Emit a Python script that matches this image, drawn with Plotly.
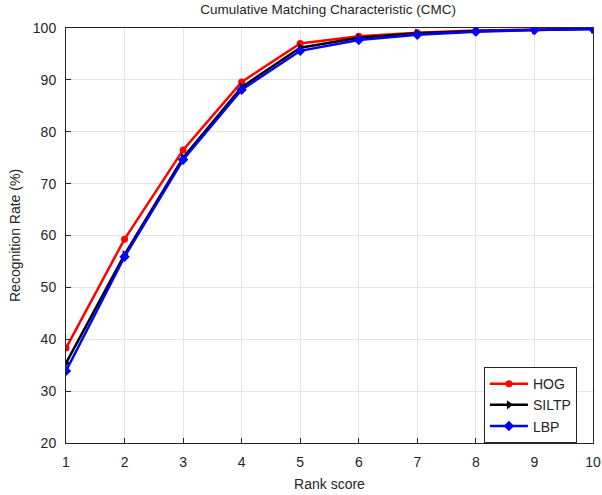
import plotly.graph_objects as go

rank = [1, 2, 3, 4, 5, 6, 7, 8, 9, 10]
hog = [38.3, 59.3, 76.5, 89.6, 97.0, 98.4, 99.1, 99.5, 99.7, 99.9]
siltp = [35.4, 56.3, 75.0, 88.6, 96.2, 98.1, 99.0, 99.4, 99.6, 99.8]
lbp = [33.9, 55.9, 74.6, 88.1, 95.6, 97.7, 98.7, 99.3, 99.6, 99.8]
xticks = list(range(1, 11))
yticks = list(range(20, 101, 10))

FONT = "Liberation Sans, Arial"
TXT = "#262626"

fig = go.Figure()
fig.add_trace(go.Scatter(x=rank, y=hog, name="HOG", mode="lines+markers",
                         line=dict(color="#ff0000", width=2.5),
                         marker=dict(symbol="circle", size=7, color="#ff0000")))
fig.add_trace(go.Scatter(x=rank, y=siltp, name="SILTP", mode="lines+markers",
                         line=dict(color="#000000", width=2.5),
                         marker=dict(symbol="triangle-right", size=8, color="#000000")))
fig.add_trace(go.Scatter(x=rank, y=lbp, name="LBP", mode="lines+markers",
                         line=dict(color="#0000ff", width=2.5),
                         marker=dict(symbol="diamond", size=8, color="#0000ff")))

axis_common = dict(showgrid=True, gridcolor="#e3e3e3", gridwidth=1,
                   showline=True, linecolor="#262626", linewidth=1, mirror=True,
                   ticks="inside", ticklen=5, tickcolor="#262626",
                   tickfont=dict(family=FONT, size=14, color=TXT),
                   ticklabeloverflow="allow", automargin=False,
                   zeroline=False)

fig.update_layout(
    width=602, height=495,
    margin=dict(l=66, r=9, t=28, b=52),
    paper_bgcolor="white", plot_bgcolor="white",
    title=dict(text="Cumulative Matching Characteristic (CMC)", x=0.545, xanchor="center",
               y=0.99, yanchor="top",
               font=dict(family=FONT, size=13.5, color=TXT)),
    xaxis=dict(range=[1, 10], tickvals=xticks, ticklabelstandoff=6,
               title=dict(text="Rank score", standoff=10,
                          font=dict(family=FONT, size=14, color=TXT)), **axis_common),
    yaxis=dict(range=[20, 100], tickvals=yticks, ticklabelstandoff=6,
               title=dict(text="Recognition Rate (%)", standoff=8,
                          font=dict(family=FONT, size=14, color=TXT)), **axis_common),
    legend=dict(x=0.793, y=0.183, xanchor="left", yanchor="top",
                bgcolor="white", bordercolor="#262626", borderwidth=1,
                font=dict(family=FONT, size=14, color=TXT),
                tracegroupgap=0, itemwidth=38),
    showlegend=True,
)

fig.write_html("out.html")
